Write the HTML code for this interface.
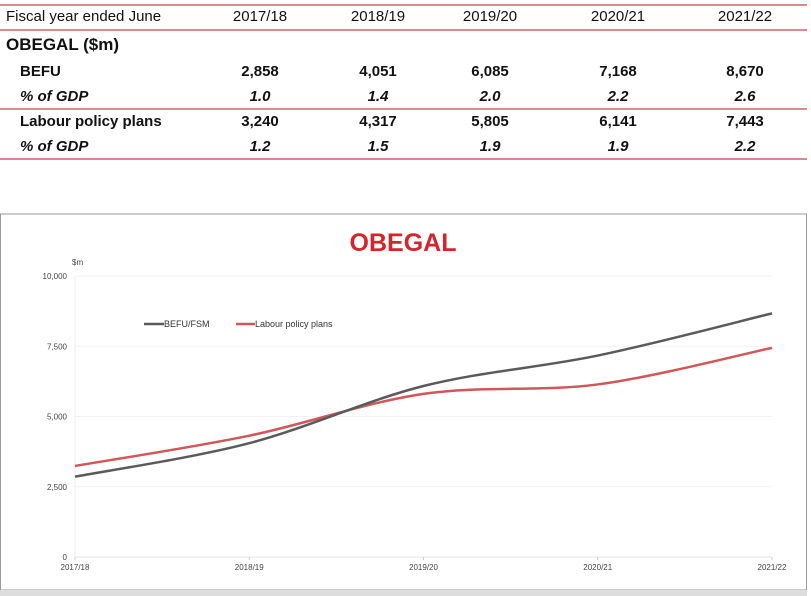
<!DOCTYPE html>
<html><head><meta charset="utf-8">
<style>
body{margin:0;width:811px;height:596px;background:#fff;font-family:"Liberation Sans",sans-serif;position:relative;overflow:hidden}
.t{position:absolute;font-size:15px;color:#111;white-space:nowrap}
.b{font-weight:bold}.i{font-style:italic;font-weight:bold}
.c{transform:translateX(-50%)}
.ln{position:absolute;left:0;width:807px;height:2px;background:#d98a8e}
</style></head><body>
<div>
<div class="ln" style="top:4px"></div>
<div class="t" style="left:6px;top:8px">Fiscal year ended June</div>
<div id="hdr"></div>
<div class="ln" style="top:29px"></div>
<div class="t b" style="left:6px;top:35px;font-size:17px">OBEGAL ($m)</div>
<div class="t b" style="left:20px;top:63px">BEFU</div>
<div class="t i" style="left:20px;top:88px">% of GDP</div>
<div class="ln" style="top:108px"></div>
<div class="t b" style="left:20px;top:113px">Labour policy plans</div>
<div class="t i" style="left:20px;top:138px">% of GDP</div>
<div class="ln" style="top:158px"></div>
<div id="cells"></div>
</div>
<svg id="chart" style="position:absolute;left:0;top:0" width="811" height="596"></svg>
<script>
const categories=["2017/18","2018/19","2019/20","2020/21","2021/22"];
const befu=[2858,4051,6085,7168,8670];
const labour=[3240,4317,5805,6141,7443];
const befuGdp=["1.0","1.4","2.0","2.2","2.6"];
const labourGdp=["1.2","1.5","1.9","1.9","2.2"];
const yTicks=[0,2500,5000,7500,10000];
const colX=[260,378,490,618,745];
const fmt=v=>v.toLocaleString("en-US");
const cells=document.getElementById("cells"),hdr=document.getElementById("hdr");
function cell(par,txt,x,y,cls,name){const d=document.createElement("div");d.className="t c "+cls;d.style.left=x+"px";d.style.top=y+"px";d.textContent=txt;


par.appendChild(d);}
categories.forEach((c,i)=>{
cell(hdr,c,colX[i],8,"","header-"+c.replace("/","-"));
cell(cells,fmt(befu[i]),colX[i],63,"b","befu-value");
cell(cells,befuGdp[i],colX[i],88,"i","befu-gdp-value");
cell(cells,fmt(labour[i]),colX[i],113,"b","labour-value");
cell(cells,labourGdp[i],colX[i],138,"i","labour-gdp-value");
});
const NS="http://www.w3.org/2000/svg",svg=document.getElementById("chart");
function el(t,a,name){const e=document.createElementNS(NS,t);for(const k in a)e.setAttribute(k,a[k]);


svg.appendChild(e);return e;}
const x0=75,x1=772,yTop=276,yBot=557;
const X=i=>x0+i*(x1-x0)/(categories.length-1);
const Y=v=>yBot-(v/10000)*(yBot-yTop);
el("rect",{x:0.5,y:214,width:806,height:376,fill:"#fff",stroke:"#999","stroke-width":1},"chart-frame");
el("rect",{x:0,y:590,width:807,height:6,fill:"#ddd"},"chart-bottom-band");
const title=el("text",{x:403,y:251,"text-anchor":"middle","font-size":25,"font-weight":"bold",fill:"#d0262c","font-family":"Liberation Sans"},"chart-title");title.textContent="OBEGAL";
const um=el("text",{x:72,y:265,"font-size":8,fill:"#444"},"y-axis-unit");um.textContent="$m";
yTicks.forEach(v=>{
el("line",{x1:x0,x2:x1,y1:Y(v),y2:Y(v),stroke:v?"#f2f2f2":"#e4e4e4"},"gridline");
const t=el("text",{x:67,y:Y(v)+3,"text-anchor":"end","font-size":8,fill:"#444"},"y-tick-label");t.textContent=fmt(v);
});
el("line",{x1:x0,x2:x0,y1:yTop,y2:yBot,stroke:"#eee"},"y-axis-line");
categories.forEach((c,i)=>{
el("line",{x1:X(i),x2:X(i),y1:yBot,y2:yBot+3,stroke:"#ccc"},"x-tick");
const t=el("text",{x:X(i),y:yBot+13,"text-anchor":"middle","font-size":8,fill:"#444"},"x-tick-label");t.textContent=c;
});
function path(vals){const p=vals.map((v,i)=>[X(i),Y(v)]);let d="M"+p[0];
for(let i=0;i<p.length-1;i++){const a=p[i-1]||p[i],b=p[i],c=p[i+1],e=p[i+2]||c;
d+=` C${b[0]+(c[0]-a[0])/6},${b[1]+(c[1]-a[1])/6} ${c[0]-(e[0]-b[0])/6},${c[1]-(e[1]-b[1])/6} ${c[0]},${c[1]}`;}return d;}
el("path",{d:path(labour),fill:"none",stroke:"#d0575a","stroke-width":2.5},"labour-line");
el("path",{d:path(befu),fill:"none",stroke:"#5a5a5a","stroke-width":2.5},"befu-line");
el("line",{x1:144,x2:164,y1:324,y2:324,stroke:"#5a5a5a","stroke-width":2.5},"legend-befu-swatch");
const l1=el("text",{x:164,y:327,"font-size":9,fill:"#333"},"legend-befu-label");l1.textContent="BEFU/FSM";
el("line",{x1:236,x2:255,y1:324,y2:324,stroke:"#d0575a","stroke-width":2.5},"legend-labour-swatch");
const l2=el("text",{x:255,y:327,"font-size":9,fill:"#333"},"legend-labour-label");l2.textContent="Labour policy plans";
</script>
</body></html>
